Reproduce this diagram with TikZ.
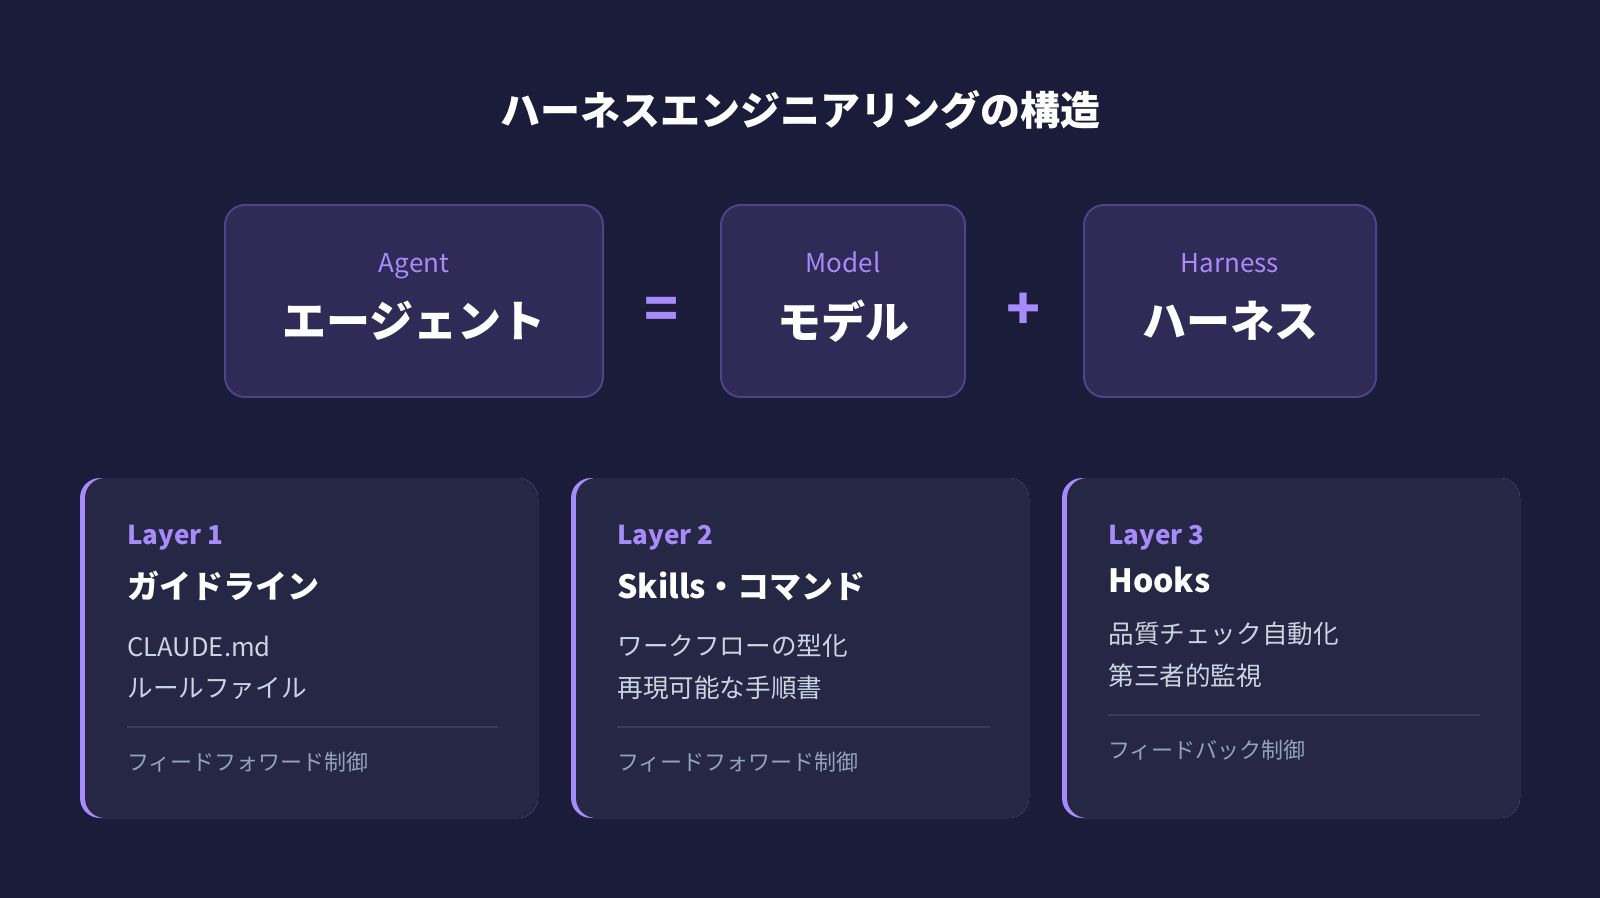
\documentclass[tikz,border=0pt]{standalone}
\usepackage{fontspec}
\setmainfont{Noto Sans CJK JP}
\usetikzlibrary{positioning}

\definecolor{bgnavy}{HTML}{1B1B3A}
\definecolor{topfill}{HTML}{2F2A56}
\definecolor{topline}{HTML}{4C4488}
\definecolor{cardfill}{HTML}{262645}
\definecolor{accent}{HTML}{A78BFA}
\definecolor{itemtext}{HTML}{CBD5E1}
\definecolor{foottext}{HTML}{94A3B8}
\definecolor{sepline}{HTML}{3A3A5C}

\begin{document}
\begin{tikzpicture}[
    x=0.5pt, y=-0.5pt,
    topbox/.style={draw=topline, line width=1pt, fill=topfill, rounded corners=10pt, minimum height=96pt},
    toplabel/.style={anchor=base, inner sep=0pt, text=accent, font=\fontsize{13}{15}\selectfont},
    bigtext/.style={text=white, font=\fontsize{22}{26}\selectfont\bfseries},
    sign/.style={text=accent, font=\fontsize{28}{30}\selectfont\bfseries},
    cardedge/.style={fill=accent, rounded corners=10pt, minimum width=229pt, minimum height=170pt, inner sep=0pt},
    cardbody/.style={fill=cardfill, rounded corners=10pt, minimum width=226.5pt, minimum height=170pt, inner sep=0pt},
    layer/.style={anchor=base west, inner sep=0pt, text=accent, font=\fontsize{13}{15}\selectfont\bfseries},
    cardtitle/.style={anchor=west, inner sep=0pt, text=white, font=\fontsize{16}{19}\selectfont\bfseries},
    item/.style={anchor=west, inner sep=0pt, text=itemtext, font=\fontsize{12.8}{15}\selectfont},
    foot/.style={anchor=west, inner sep=0pt, text=foottext, font=\fontsize{11}{13}\selectfont},
    sep/.style={draw=sepline, line width=0.8pt}
]

% Background
\fill[bgnavy] (0,0) rectangle (1600,898);

% Title
\node[text=white, font=\fontsize{20}{24}\selectfont\bfseries] (title) at (800,110) {ハーネスエンジニアリングの構造};

% Equation row
\node[topbox, minimum width=189pt] (agent) at (414,301) {};
\node[topbox, minimum width=122pt] (model) at (843,301) {};
\node[topbox, minimum width=146pt] (harness) at (1230,301) {};
\node[sign] (eq) at (662,313) {=};
\node[sign] (plus) at (1024,311) {+};

\node[toplabel] (agenttag) at (414,273) {Agent};
\node[bigtext] (agentjp) at (414,321) {エージェント};
\node[toplabel] (modeltag) at (843,273) {Model};
\node[bigtext] (modeljp) at (843,321) {モデル};
\node[toplabel] (harnesstag) at (1230,273) {Harness};
\node[bigtext] (harnessjp) at (1230,321) {ハーネス};

% Layer cards
\node[cardedge] (edge1) at (309,648) {};
\node[cardbody] (card1) at (311.5,648) {};
\node[cardedge] (edge2) at (800,648) {};
\node[cardbody] (card2) at (802.5,648) {};
\node[cardedge] (edge3) at (1291,648) {};
\node[cardbody] (card3) at (1293.5,648) {};

% Layer 1
\node[layer] (layer1) at (127,544) {Layer 1};
\node[cardtitle] (guide) at (127,586) {ガイドライン};
\node[item] (claude) at (127,646) {CLAUDE.md};
\node[item] (rules) at (127,688) {ルールファイル};
\coordinate (sep1l) at (127,727);
\coordinate (sep1r) at (498,727);
\draw[sep] (sep1l) -- (sep1r);
\node[foot] (ff1) at (127,762) {フィードフォワード制御};

% Layer 2
\node[layer] (layer2) at (617,544) {Layer 2};
\node[cardtitle] (skills) at (617,586) {Skills・コマンド};
\node[item] (flow) at (617,646) {ワークフローの型化};
\node[item] (steps) at (617,688) {再現可能な手順書};
\coordinate (sep2l) at (617,727);
\coordinate (sep2r) at (990,727);
\draw[sep] (sep2l) -- (sep2r);
\node[foot] (ff2) at (617,762) {フィードフォワード制御};

% Layer 3
\node[layer] (layer3) at (1108,544) {Layer 3};
\node[cardtitle] (hooks) at (1108,580) {Hooks};
\node[item] (check) at (1108,634) {品質チェック自動化};
\node[item] (watch) at (1108,676) {第三者的監視};
\coordinate (sep3l) at (1108,715);
\coordinate (sep3r) at (1480,715);
\draw[sep] (sep3l) -- (sep3r);
\node[foot] (fb3) at (1108,750) {フィードバック制御};

\end{tikzpicture}
\end{document}
